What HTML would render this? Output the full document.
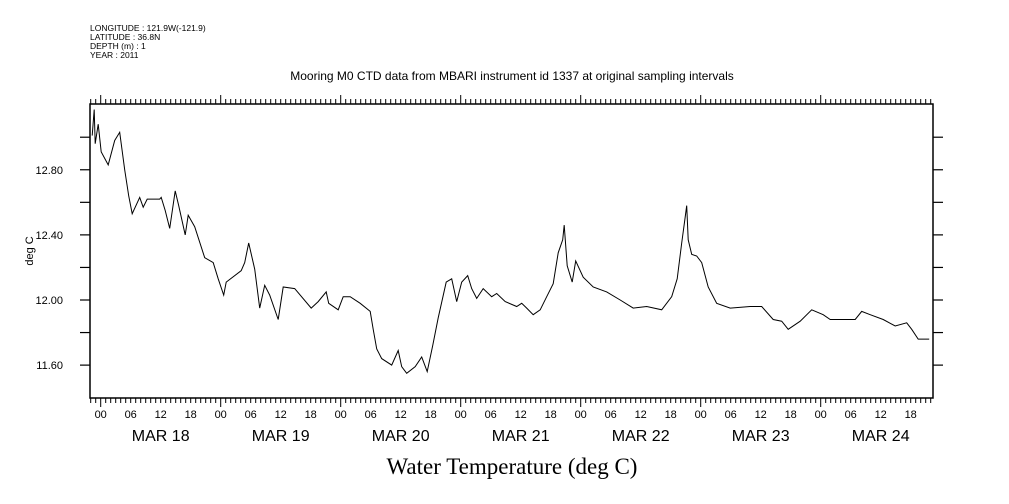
<!DOCTYPE html>
<html><head><meta charset="utf-8"><style>
html,body{margin:0;padding:0;background:#fff;}
svg{display:block;font-family:"Liberation Sans",sans-serif;}
</style></head><body>
<svg id="chart" width="1009" height="504" viewBox="0 0 1009 504" xmlns="http://www.w3.org/2000/svg">
<g font-size="8.5" fill="#000">
<text x="90" y="31">LONGITUDE : 121.9W(-121.9)</text>
<text x="90" y="40">LATITUDE : 36.8N</text>
<text x="90" y="49">DEPTH (m) : 1</text>
<text x="90" y="58">YEAR : 2011</text>
</g>
<text x="512" y="80" text-anchor="middle" font-size="12">Mooring M0 CTD data from MBARI instrument id 1337 at original sampling intervals</text>
<text x="512" y="474" text-anchor="middle" font-size="23" font-family="Liberation Serif, serif">Water Temperature (deg C)</text>
<text transform="translate(33,251) rotate(-90)" text-anchor="middle" font-size="11">deg C</text>
<rect x="90" y="104" width="843" height="294" fill="none" stroke="#000" stroke-width="1.5"/>
<g id="axes"></g>
<path id="line" fill="none" stroke="#000" stroke-width="1"/>
</svg>
<script>
const hours = [-1.7,-1.3,-1.1,-0.5,0.1,1.5,2.8,3.8,4.8,5.6,6.3,7.8,8.5,9.3,11.8,12.1,12.9,13.8,14.9,15.6,16.9,17.5,18.8,20.8,22.5,23.5,24.6,25.1,28.1,28.8,29.6,30.8,31.8,32.8,33.8,35.5,36.5,38.8,42.1,43.5,45.1,45.6,47.5,48.5,49.9,51.9,53.9,54.5,55.2,56.2,58.2,59.5,60.2,61.2,62.9,64.2,65.3,66.4,67.5,69.1,70.2,71.2,72.2,73.4,74.2,75.2,76.5,78.2,79.2,80.9,83.2,84.2,85.2,86.5,87.9,89.2,90.5,91.5,92.4,92.7,93.3,94.3,95.0,96.5,98.5,101.2,103.9,106.5,109.2,112.2,114.2,115.3,116.2,116.9,117.2,117.5,118.2,119.2,120.2,121.5,123.2,125.9,129.9,132.2,134.5,136.2,137.5,139.9,142.2,144.5,145.9,150.9,152.2,153.9,156.5,158.9,161.2,162.2,163.5,165.7];
const temps = [13.01,13.17,12.96,13.08,12.91,12.83,12.98,13.03,12.80,12.64,12.53,12.63,12.57,12.62,12.62,12.63,12.55,12.44,12.67,12.58,12.40,12.52,12.45,12.26,12.23,12.13,12.03,12.11,12.18,12.23,12.35,12.19,11.95,12.09,12.03,11.88,12.08,12.07,11.95,11.99,12.05,11.98,11.94,12.02,12.02,11.98,11.93,11.82,11.70,11.64,11.60,11.69,11.59,11.55,11.59,11.65,11.56,11.72,11.89,12.11,12.13,11.99,12.11,12.15,12.07,12.01,12.07,12.02,12.04,11.99,11.96,11.98,11.95,11.91,11.94,12.02,12.10,12.29,12.37,12.46,12.21,12.11,12.24,12.14,12.08,12.05,12.00,11.95,11.96,11.94,12.02,12.13,12.35,12.51,12.58,12.37,12.28,12.27,12.23,12.08,11.98,11.95,11.96,11.96,11.88,11.87,11.82,11.87,11.94,11.91,11.88,11.88,11.93,11.91,11.88,11.84,11.86,11.82,11.76,11.76];
const yTickValues = [11.6,11.8,12.0,12.2,12.4,12.6,12.8,13.0];
const yTickLabels = ["11.60","","12.00","","12.40","","12.80",""];
const hourLabels = ["00","06","12","18"];
const dayLabels = ["MAR 18","MAR 19","MAR 20","MAR 21","MAR 22","MAR 23","MAR 24"];

const X0=90,X1=933,Y0=104,Y1=398;
const xS = h => 100.7 + 5*h;
const yS = v => Y1 - (v-11.398)/(13.204-11.398)*(Y1-Y0);
const NS="http://www.w3.org/2000/svg";
const axes=document.getElementById('axes');
function mk(tag,attrs,parent){const e=document.createElementNS(NS,tag);for(const k in attrs)e.setAttribute(k,attrs[k]);(parent||axes).appendChild(e);return e;}

let d='';
for(let i=0;i<hours.length;i++){d+=(i?'L':'M')+xS(hours[i]).toFixed(1)+' '+yS(temps[i]).toFixed(1);}
document.getElementById('line').setAttribute('d',d);

yTickValues.forEach((v,i)=>{
  const y=yS(v);
  const t1=mk('line',{x1:X0-10,x2:X0,y1:y,y2:y,stroke:'#000','stroke-width':1.2});
  
  
  const t2=mk('line',{x1:X1,x2:X1+10,y1:y,y2:y,stroke:'#000','stroke-width':1.2});
  
  
  if(yTickLabels[i]){
    const tx=mk('text',{x:X0-27,y:y+4,'text-anchor':'end','font-size':11});
    tx.textContent=yTickLabels[i];
    
    
  }
});
for(let h=-2;h<=166;h++){
  const x=xS(h); if(x<X0||x>X1) continue;
  const major=(h%24===0);
  const len=major?9:5;
  const b=mk('line',{x1:x,x2:x,y1:Y1,y2:Y1+len,stroke:'#000','stroke-width':1});
  
  
  const t=mk('line',{x1:x,x2:x,y1:Y0,y2:Y0-len,stroke:'#000','stroke-width':1});
  
  
}
for(let h=0;h<=162;h+=6){
  const tx=mk('text',{x:xS(h),y:418,'text-anchor':'middle','font-size':11});
  tx.textContent=hourLabels[(h/6)%4];
  
  
}
dayLabels.forEach((lab,i)=>{
  const tx=mk('text',{x:xS(24*i+12),y:441,'text-anchor':'middle','font-size':16});
  tx.textContent=lab;
  
  
});
</script>
</body></html>
